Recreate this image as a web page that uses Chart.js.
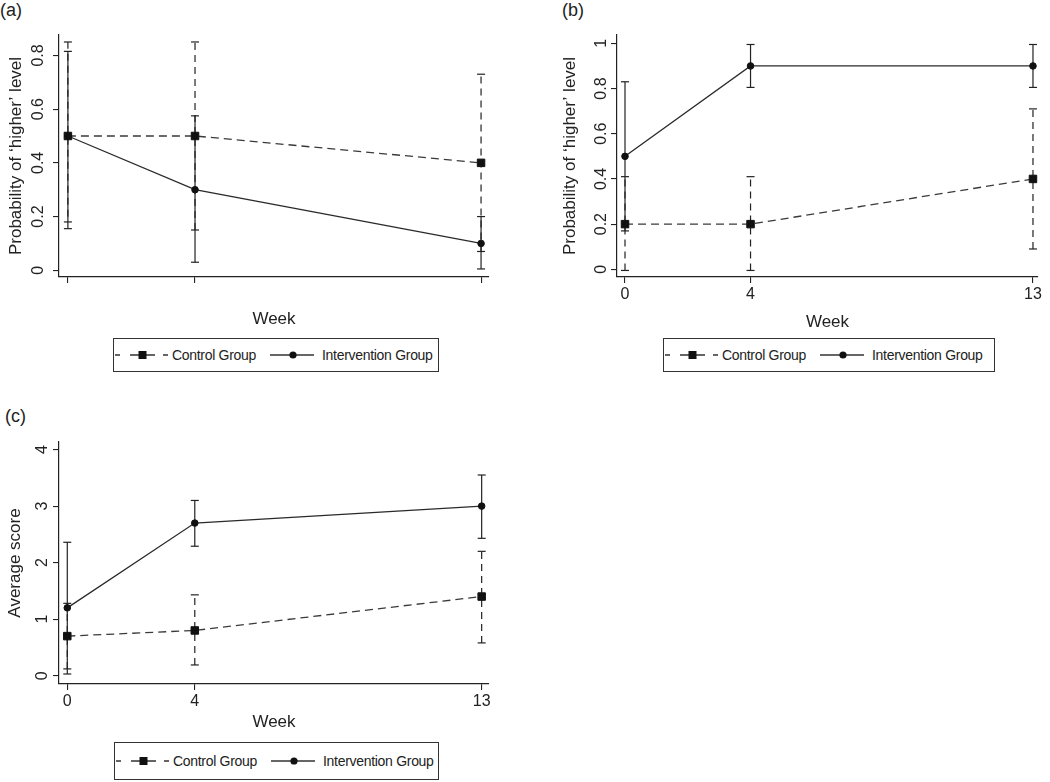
<!DOCTYPE html>
<html>
<head>
<meta charset="utf-8">
<script src="https://cdn.jsdelivr.net/npm/chart.js@4.4.1/dist/chart.umd.min.js"></script>
<style>
  body { margin: 0; background: #fff; font-family: "Liberation Sans", Arial, sans-serif; color: #222; }
  #page { position: relative; width: 1050px; height: 782px; overflow: hidden; }
  canvas { position: absolute; }
  .tag { position: absolute; font-size: 18px; line-height: 20px; }
  .legend { position: absolute; border: 1px solid #333; box-sizing: border-box; display: flex; align-items: center;
            font-size: 14px; letter-spacing: -0.3px; white-space: nowrap; background: #fff; }
</style>
</head>
<body>
<div id="page">
  <div class="tag" style="left:0;top:0">(a)</div>
  <div class="tag" style="left:562px;top:0">(b)</div>
  <div class="tag" style="left:5px;top:406px">(c)</div>
  <canvas id="chartA" width="520" height="336" style="left:0;top:0"></canvas>
  <canvas id="chartB" width="495" height="336" style="left:555px;top:0"></canvas>
  <canvas id="chartC" width="520" height="340" style="left:0;top:400px"></canvas>
</div>
<script>
// weeks on the x axis
const weeks = [0, 4, 13];
const xTicks = [0, 4, 13];

// (a) probability of 'higher' level
const aControl   = [0.5, 0.5, 0.4];
const aControlLo = [0.155, 0.15, 0.07];
const aControlHi = [0.85, 0.85, 0.73];
const aInterv    = [0.5, 0.3, 0.1];
const aIntervLo  = [0.18, 0.03, 0.005];
const aIntervHi  = [0.815, 0.575, 0.2];
const aYTicks    = [0, 0.2, 0.4, 0.6, 0.8];

// (b) probability of 'higher' level
const bControl   = [0.2, 0.2, 0.4];
const bControlLo = [-0.005, -0.005, 0.09];
const bControlHi = [0.41, 0.41, 0.71];
const bInterv    = [0.5, 0.9, 0.9];
const bIntervLo  = [0.17, 0.805, 0.805];
const bIntervHi  = [0.83, 0.995, 0.995];
const bYTicks    = [0, 0.2, 0.4, 0.6, 0.8, 1];

// (c) average score
const cControl   = [0.7, 0.8, 1.4];
const cControlLo = [0.12, 0.19, 0.58];
const cControlHi = [1.28, 1.43, 2.2];
const cInterv    = [1.2, 2.7, 3.0];
const cIntervLo  = [0.03, 2.29, 2.43];
const cIntervHi  = [2.36, 3.1, 3.55];
const cYTicks    = [0, 1, 2, 3, 4];

const FONT = '"Liberation Sans", Arial, sans-serif';
const INK = '#222';

// stata-style vertical tick labels on the y axis
const rotatedYLabels = {
  id: 'rotatedYLabels',
  afterDraw(chart, args, opts) {
    const s = chart.scales.y, ctx = chart.ctx;
    ctx.save();
    ctx.fillStyle = INK;
    ctx.font = '16px ' + FONT;
    ctx.textAlign = 'center';
    ctx.textBaseline = 'middle';
    s.ticks.forEach(t => {
      ctx.save();
      ctx.translate(s.right - opts.offset, s.getPixelForValue(t.value));
      ctx.rotate(-Math.PI / 2);
      ctx.fillText(t.label, 0, 1);
      ctx.restore();
    });
    ctx.restore();
  }
};

function buildDatasets(ctrl, ctrlLo, ctrlHi, intv, intvLo, intvHi) {
  const pts = ys => weeks.map((w, i) => ({ x: w, y: ys[i] }));
  const sets = [
    { label: 'Control Group', data: pts(ctrl), showLine: true, borderColor: '#3a3a3a', borderWidth: 1.3,
      borderDash: [8, 5], pointStyle: 'rect', pointRadius: 5.3, pointBackgroundColor: '#111',
      pointBorderColor: '#111', pointBorderWidth: 1 },
    { label: 'Intervention Group', data: pts(intv), showLine: true, borderColor: '#2a2a2a', borderWidth: 1.3,
      pointStyle: 'circle', pointRadius: 3.3, pointBackgroundColor: '#111',
      pointBorderColor: '#111', pointBorderWidth: 1 }
  ];
  weeks.forEach((w, i) => {
    sets.push({ label: 'ci', data: [{ x: w, y: intvLo[i] }, { x: w, y: intvHi[i] }], showLine: true,
      borderColor: INK, borderWidth: 1.2, pointStyle: 'line', pointRadius: 4,
      pointBorderColor: INK, pointBorderWidth: 1.2 });
    sets.push({ label: 'ci', data: [{ x: w, y: ctrlLo[i] }, { x: w, y: ctrlHi[i] }], showLine: true,
      borderColor: INK, borderWidth: 1.2, borderDash: [7, 5], pointStyle: 'line', pointRadius: 4,
      pointBorderColor: INK, pointBorderWidth: 1.2 });
  });
  return sets;
}

function makePanel(id, p) {
  const canvas = document.getElementById(id);
  const H = canvas.height, W = canvas.width;
  return new Chart(canvas, {
    type: 'scatter',
    data: { datasets: p.datasets },
    plugins: [rotatedYLabels],
    options: {
      responsive: false,
      animation: false,
      events: [],
      devicePixelRatio: 1,
      clip: false,
      layout: { padding: { left: 0, top: p.area.top, right: W - p.area.right, bottom: 0 } },
      plugins: {
        legend: { display: false },
        tooltip: { enabled: false },
        rotatedYLabels: { offset: p.yLabelOffset }
      },
      scales: {
        x: {
          type: 'linear', min: p.xMin, max: p.xMax,
          afterBuildTicks: s => { s.ticks = xTicks.map(v => ({ value: v })); },
          afterFit: s => { s.height = H - p.area.bottom; },
          grid: { drawOnChartArea: false, drawTicks: true, tickLength: 6, color: INK, lineWidth: 1.1 },
          border: { display: true, color: INK, width: 1.2 },
          ticks: { display: p.showXLabels, padding: 2, color: INK, autoSkip: false, maxRotation: 0,
                   font: { size: 16, family: FONT }, callback: v => String(v) },
          title: { display: true, text: 'Week', color: INK, font: { size: 17, family: FONT },
                   padding: { top: 0, bottom: p.xTitlePad } }
        },
        y: {
          type: 'linear', min: p.yMin, max: p.yMax,
          afterBuildTicks: s => { s.ticks = p.yTicks.map(v => ({ value: v })); },
          afterFit: s => { s.width = p.area.left; },
          grid: { drawOnChartArea: false, drawTicks: true, tickLength: 6, color: INK, lineWidth: 1.1 },
          border: { display: true, color: INK, width: 1.2 },
          ticks: { display: false, callback: v => String(v) },
          title: { display: true, text: p.yTitle, color: INK, font: { size: 17, family: FONT },
                   padding: { top: p.yTitlePad, bottom: 0 } }
        }
      }
    }
  });
}

function addLegend(left, top, width, height) {
  const div = document.createElement('div');
  div.className = 'legend';
  Object.assign(div.style, { left: left + 'px', top: top + 'px', width: width + 'px', height: height + 'px' });
  div.innerHTML =
    '<svg width="53" height="12" style="margin-left:1px"><path d="M0 6H5M15 6H40M48 6H53" stroke="#333" stroke-width="1.3" fill="none"/>' +
    '<rect x="23.5" y="2" width="8" height="8" fill="#111"/></svg>' +
    '<span style="margin-left:4px">Control Group</span>' +
    '<svg width="44" height="12" style="margin-left:14px"><path d="M0 6H44" stroke="#333" stroke-width="1.3" fill="none"/>' +
    '<circle cx="23" cy="6" r="3.6" fill="#111"/></svg>' +
    '<span style="margin-left:8px">Intervention Group</span>';
  document.getElementById('page').appendChild(div);
}

makePanel('chartA', {
  datasets: buildDatasets(aControl, aControlLo, aControlHi, aInterv, aIntervLo, aIntervHi),
  area: { left: 59, top: 35, right: 489, bottom: 277 },
  xMin: -0.28, xMax: 13.25, yMin: -0.025, yMax: 0.876, yTicks: aYTicks,
  yTitle: 'Probability of \u2018higher\u2019 level', showXLabels: false,
  yLabelOffset: 21, yTitlePad: 6, xTitlePad: 6
});

makePanel('chartB', {
  datasets: buildDatasets(bControl, bControlLo, bControlHi, bInterv, bIntervLo, bIntervHi),
  area: { left: 62, top: 35, right: 483, bottom: 277 },
  xMin: -0.255, xMax: 13.16, yMin: -0.034, yMax: 1.037, yTicks: bYTicks,
  yTitle: 'Probability of \u2018higher\u2019 level', showXLabels: true,
  yLabelOffset: 16, yTitlePad: 5, xTitlePad: 3
});

makePanel('chartC', {
  datasets: buildDatasets(cControl, cControlLo, cControlHi, cInterv, cIntervLo, cIntervHi),
  area: { left: 59, top: 42, right: 489, bottom: 284 },
  xMin: -0.26, xMax: 13.23, yMin: -0.147, yMax: 4.134, yTicks: cYTicks,
  yTitle: 'Average score', showXLabels: true,
  yLabelOffset: 17, yTitlePad: 5, xTitlePad: 7
});

addLegend(113, 338, 326, 34);
addLegend(663, 338, 332, 34);
addLegend(114, 742, 325, 38);
</script>
</body>
</html>
